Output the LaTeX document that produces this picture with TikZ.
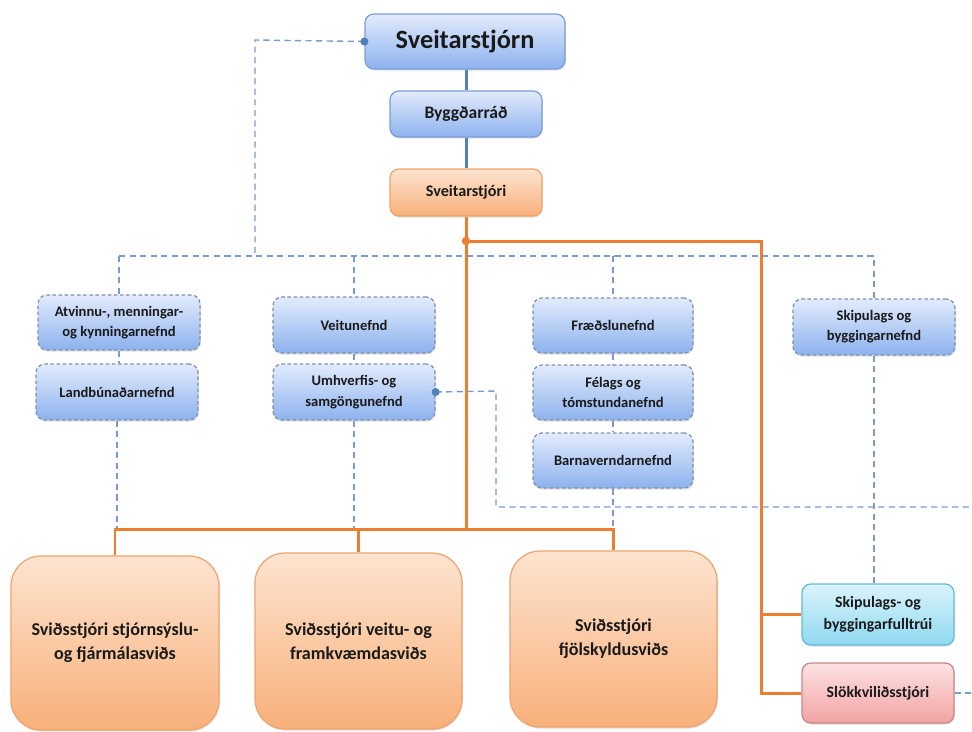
\documentclass[tikz,border=0pt]{standalone}
\usepackage{fontspec}
\setmainfont{Carlito}
\usetikzlibrary{calc,shadows}
\definecolor{bluetop}{HTML}{E2EBFC}
\definecolor{bluebot}{HTML}{8DB2EE}
\definecolor{blueedge}{HTML}{7B9ED6}
\definecolor{dashedge}{HTML}{7F8FAE}
\definecolor{orgtop}{HTML}{FDE4D0}
\definecolor{orgbot}{HTML}{F8B07A}
\definecolor{orgedge}{HTML}{F1A36B}
\definecolor{orgline}{HTML}{ED7D31}
\definecolor{blueline}{HTML}{4F81BD}
\definecolor{dashline}{HTML}{7A9BCF}
\definecolor{cyantop}{HTML}{DAF4FC}
\definecolor{cyanbot}{HTML}{8FD8F0}
\definecolor{cyanedge}{HTML}{63BCDB}
\definecolor{pinktop}{HTML}{FDE2E2}
\definecolor{pinkbot}{HTML}{F2A3A3}
\definecolor{pinkedge}{HTML}{CC8585}
\definecolor{txt}{HTML}{1A1A1A}
\tikzset{
  shd/.style={drop shadow={shadow xshift=0.5pt, shadow yshift=-0.9pt, opacity=0.25}},
  basebox/.style={align=center, font=\bfseries, text=txt, inner sep=2pt, line width=0.7pt, shd},
  bluebox/.style={basebox, draw=blueedge, top color=bluetop, bottom color=bluebot, rounded corners=5pt},
  combox/.style={basebox, draw=dashedge, dash pattern=on 2pt off 1.5pt, top color=bluetop, bottom color=bluebot, rounded corners=5pt, font=\bfseries\fontsize{8.3}{11.5}\selectfont},
  orgbox/.style={basebox, draw=orgedge, top color=orgtop, bottom color=orgbot, rounded corners=5pt},
  bigbox/.style={basebox, draw=orgedge, top color=orgtop, bottom color=orgbot, rounded corners=17pt, font=\bfseries\fontsize{10.3}{13.5}\selectfont},
  cyanbox/.style={basebox, draw=cyanedge, top color=cyantop, bottom color=cyanbot, rounded corners=5pt, font=\bfseries\fontsize{9}{12.5}\selectfont},
  pinkbox/.style={basebox, draw=pinkedge, top color=pinktop, bottom color=pinkbot, rounded corners=5pt, font=\bfseries\fontsize{9}{12.5}\selectfont},
  orgconn/.style={draw=orgline, line width=1.7pt},
  blueconn/.style={draw=blueline, line width=1.7pt},
  dashconn/.style={draw=dashline, line width=0.8pt, dash pattern=on 3.5pt off 2.5pt},
}
\newcommand{\boxat}[7]{\node[#6, minimum width={(#4-#2)*0.02cm}, minimum height={(#5-#3)*0.02cm}] (#1) at ({(#2+#4)/2},{(#3+#5)/2}) {#7};}
\begin{document}
\begin{tikzpicture}[x=0.02cm,y=-0.02cm]
\useasboundingbox[fill=white] (0,0) rectangle (972,731);
% top chain
\boxat{sj}{365}{14}{565}{69}{bluebox, font=\bfseries\fontsize{15}{18}\selectfont}{Sveitarstjórn}
\boxat{bygg}{390}{91}{542}{137}{bluebox, font=\bfseries\fontsize{10}{12}\selectfont}{Byggðarráð}
\boxat{sts}{390}{169}{542}{216}{orgbox, font=\bfseries\fontsize{9.2}{12}\selectfont}{Sveitarstjóri}
% committees
\boxat{atv}{38}{295}{200}{350}{combox}{Atvinnu-, menningar-\\og kynningarnefnd}
\boxat{land}{36}{364}{198}{420}{combox}{Landbúnaðarnefnd}
\boxat{veit}{273}{297}{435}{353}{combox}{Veitunefnd}
\boxat{umh}{273}{364}{435}{420}{combox}{Umhverfis- og\\samgöngunefnd}
\boxat{fraed}{533}{298}{693}{353}{combox}{Fræðslunefnd}
\boxat{fel}{533}{365}{693}{420}{combox}{Félags og\\tómstundanefnd}
\boxat{barn}{533}{433}{693}{488}{combox}{Barnaverndarnefnd}
\boxat{skipn}{793}{299}{955}{355}{combox}{Skipulags og\\byggingarnefnd}
% divisions
\boxat{b1}{11}{556}{219}{730}{bigbox}{Sviðsstjóri stjórnsýslu-\\og fjármálasviðs}
\boxat{b2}{255}{553}{462}{729}{bigbox}{Sviðsstjóri veitu- og\\framkvæmdasviðs}
\boxat{b3}{510}{551}{717}{727}{bigbox}{Sviðsstjóri\\fjölskyldusviðs}
\boxat{fullt}{802}{584}{954}{645}{cyanbox}{Skipulags- og\\byggingarfulltrúi}
\boxat{slokk}{802}{663}{954}{723}{pinkbox}{Slökkviliðsstjóri}
% coordinates
\coordinate (oj) at (466,241);
\coordinate (obar) at (466,529);
\coordinate (orx) at (761,241);
\coordinate (dtop) at (255,40);
\coordinate (dbar) at (255,256);
\coordinate (dl) at (120,256);
\coordinate (uc1) at (496,391);
\coordinate (uc2) at (496,507);
\coordinate (uend) at (972,507);
% dashed lines
\draw[dashconn] (sj.west) -- (dtop) -- (dbar);
\draw[dashconn] (atv.north |- dl) -- (skipn.north |- dl) -- (skipn.north);
\draw[dashconn] (atv.north |- dl) -- (atv.north);
\draw[dashconn] (veit.north |- dl) -- (veit.north);
\draw[dashconn] (fraed.north |- dl) -- (fraed.north);
\draw[dashconn] (atv.south) -- (land.north -| atv.south);
\draw[dashconn] (veit.south) -- (umh.north);
\draw[dashconn] (fraed.south) -- (fel.north);
\draw[dashconn] (fel.south) -- (barn.north);
\draw[dashconn] (land.south) -- (land.south |- obar);
\draw[dashconn] (umh.south) -- (umh.south |- obar);
\draw[dashconn] (barn.south) -- (barn.south |- obar);
\draw[dashconn] (skipn.south) -- (skipn.south |- fullt.north);
\draw[dashconn] (umh.east) -- (uc1) -- (uc2) -- (uend);
\draw[dashconn] (slokk.east) -- (slokk.east -| uend);
\fill[blueline] (sj.west) circle (2.3pt);
\fill[blueline] (umh.east) circle (2.3pt);
% solid blue
\draw[blueconn] (bygg.north |- sj.south) -- (bygg.north);
\draw[blueconn] (bygg.south) -- (sts.north);
% orange
\draw[orgconn] (sts.south) -- (oj) -- (obar);
\draw[orgconn] (b1.north) -- (b1.north |- obar) -- (b3.north |- obar) -- (b3.north);
\draw[orgconn] (b2.north) -- (b2.north |- obar);
\draw[orgconn] (oj) -- (orx) -- (orx |- slokk.west) -- (slokk.west);
\draw[orgconn] (orx |- fullt.west) -- (fullt.west);
\fill[orgline] (oj) circle (2.4pt);
\end{tikzpicture}
\end{document}
